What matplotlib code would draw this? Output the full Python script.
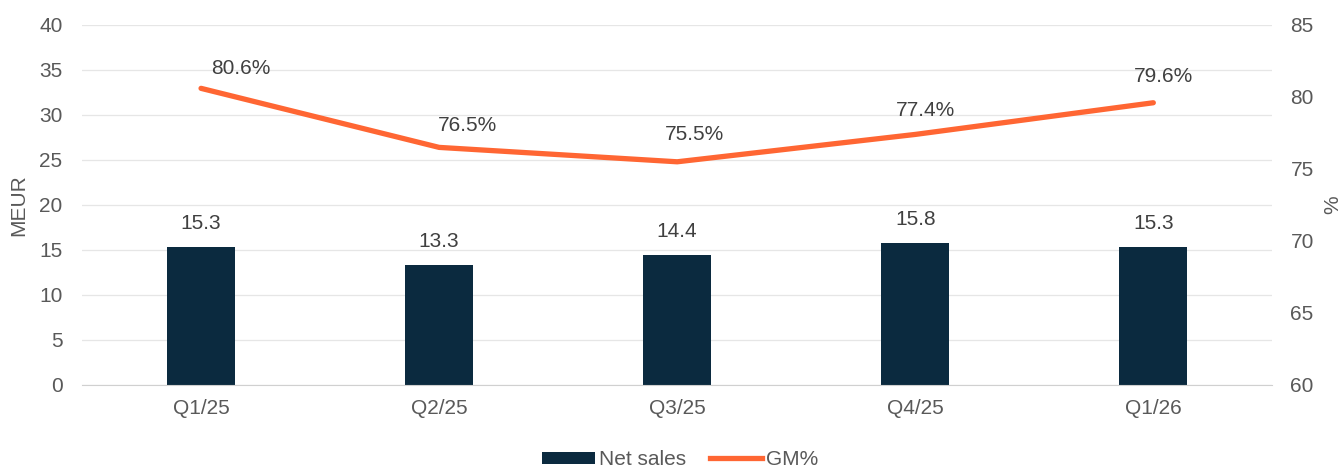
import matplotlib.pyplot as plt
from matplotlib.patches import Patch
from matplotlib.lines import Line2D

quarters = ["Q1/25", "Q2/25", "Q3/25", "Q4/25", "Q1/26"]
net_sales = [15.3, 13.3, 14.4, 15.8, 15.3]
gm_pct = [80.6, 76.5, 75.5, 77.4, 79.6]

# GM% labels were nudged by hand in the source chart (pixels, right / up)
gm_label_dx = [40, 28, 17, 10, 10]
gm_label_dy = [20, 22, 27, 24, 26]

BAR_COLOR = "#0b2a3f"
LINE_COLOR = "#ff6633"
TEXT_COLOR = "#595959"

plt.rcParams['font.family'] = ['Liberation Sans', 'DejaVu Sans']
plt.rcParams['font.size'] = 15

fig = plt.figure(figsize=(13.42, 4.67), dpi=100)
ax = fig.add_axes([0.0611, 0.1756, 0.887, 0.7709])
x = list(range(len(quarters)))

# bars on the left axis
ax.bar(x, net_sales, width=0.285, color=BAR_COLOR, zorder=2)
for xi, v in zip(x, net_sales):
    ax.annotate(f"{v:.1f}", (xi, v), xytext=(0, 17), textcoords="offset points",
                ha="center", va="center", color="#404040")

ax.set_xlim(-0.5, len(quarters) - 0.5)
ax.set_ylim(0, 40)
ax.set_yticks(range(0, 41, 5))
ax.set_xticks(x)
ax.set_xticklabels(quarters)
ax.set_ylabel("MEUR", color=TEXT_COLOR, labelpad=8)
ax.grid(axis="y", color="#e6e6e6", linewidth=0.9, zorder=0)
ax.set_axisbelow(True)
for s in ["top", "right", "left"]:
    ax.spines[s].set_visible(False)
ax.spines["bottom"].set_color("#d0d0d0")
ax.tick_params(axis="both", length=0, colors=TEXT_COLOR, pad=14)
ax.tick_params(axis="x", pad=10)

# GM% line on the right axis
ax2 = ax.twinx()
ax2.plot(x, gm_pct, color=LINE_COLOR, linewidth=3.8, solid_capstyle="round", zorder=3)
for xi, v, dx, dy in zip(x, gm_pct, gm_label_dx, gm_label_dy):
    ax2.annotate(f"{v:.1f}%", (xi, v), xytext=(dx, dy), textcoords="offset pixels",
                 ha="center", va="center", color="#404040")
ax2.set_ylim(60, 85)
ax2.set_yticks(range(60, 86, 5))
ax2.set_ylabel("%", color=TEXT_COLOR, labelpad=7)
for s in ax2.spines.values():
    s.set_visible(False)
ax2.tick_params(axis="y", length=0, colors=TEXT_COLOR, pad=13)

handles = [Patch(facecolor=BAR_COLOR), Line2D([0], [0], color=LINE_COLOR, linewidth=3.8)]
fig.legend(handles, ["Net sales", "GM%"], loc="lower center", bbox_to_anchor=(0.507, -0.045),
           ncol=2, frameon=False, handlelength=2.5, handleheight=0.55, columnspacing=1.15,
           handletextpad=0.2, labelcolor=TEXT_COLOR)

fig.savefig("out.png", dpi=100)
